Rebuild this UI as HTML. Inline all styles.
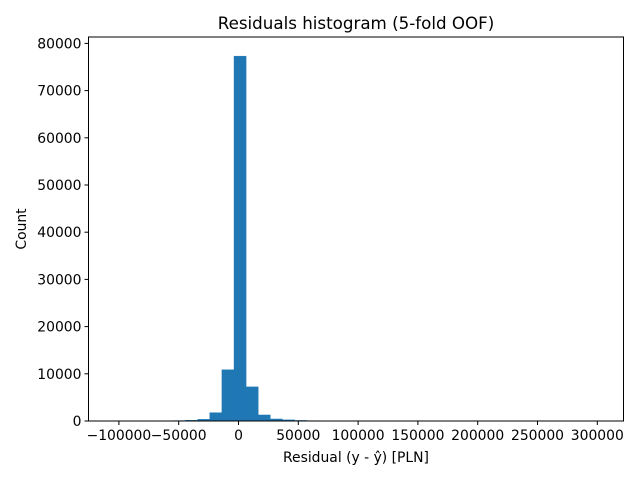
<!DOCTYPE html>
<html><head><meta charset="utf-8"><style>
body{margin:0;background:#fff;}
svg{display:block;font-family:"DejaVu Sans","Liberation Sans",sans-serif;}
</style></head><body>
<svg id="chart" width="640" height="480" xmlns="http://www.w3.org/2000/svg">
<rect x="0" y="0" width="640" height="480" fill="#fff"/>
<g id="bars"></g>
<g id="axes"></g>
<text x="356" y="29" font-size="16.7" text-anchor="middle">Residuals histogram (5-fold OOF)</text>
<text x="356" y="462" font-size="13.9" text-anchor="middle">Residual (y - ŷ) [PLN]</text>
<text x="0" y="0" font-size="13.9" text-anchor="middle" transform="translate(26,229) rotate(-90)">Count</text>
</svg>
<script>
const binStart = -104960;
const binWidth = 10120;
const counts = [5,8,12,20,40,80,160,350,1770,10850,77300,7230,1280,430,240,120,70,40,25,15,10,8,6,5,4,3,3,2,2,2,1,1,1,1,1,1,1,1,1,1];
const xTicks = [-100000,-50000,0,50000,100000,150000,200000,250000,300000];
const xTickLabels = ["−100000","−50000","0","50000","100000","150000","200000","250000","300000"];
const yTicks = [0,10000,20000,30000,40000,50000,60000,70000,80000];
const yTickLabels = ["0","10000","20000","30000","40000","50000","60000","70000","80000"];

const L=88.5,R=623.5,T=37,B=421;
function xs(v){return 238.5 + v*119.6/100000;}
function ys(v){return B - v*47.2/10000;}
const NS="http://www.w3.org/2000/svg";
const bars=document.getElementById('bars');
counts.forEach((c,i)=>{
  const x0=xs(binStart+i*binWidth), x1=xs(binStart+(i+1)*binWidth);
  const r=document.createElementNS(NS,'rect');
  r.setAttribute('x',x0);r.setAttribute('width',x1-x0);
  r.setAttribute('y',ys(c));r.setAttribute('height',B-ys(c));
  r.setAttribute('fill','#1f77b4');
  r.setAttribute('stroke','#1f77b4');r.setAttribute('stroke-width','0.4');
  
  
  bars.appendChild(r);
});
const ax=document.getElementById('axes');
const fr=document.createElementNS(NS,'rect');
fr.setAttribute('x',L);fr.setAttribute('y',T);fr.setAttribute('width',R-L);fr.setAttribute('height',B-T);
fr.setAttribute('fill','none');fr.setAttribute('stroke','#000');fr.setAttribute('stroke-width','1');


ax.appendChild(fr);
xTicks.forEach((v,i)=>{
  const x=xs(v);
  const l=document.createElementNS(NS,'line');
  l.setAttribute('x1',x);l.setAttribute('x2',x);l.setAttribute('y1',B);l.setAttribute('y2',B+4);
  l.setAttribute('stroke','#000');
  
  
  ax.appendChild(l);
  const t=document.createElementNS(NS,'text');
  t.setAttribute('x',x);t.setAttribute('y',B+19);t.setAttribute('font-size','13.9');t.setAttribute('text-anchor','middle');
  t.textContent=xTickLabels[i];
  
  
  ax.appendChild(t);
});
yTicks.forEach((v,i)=>{
  const y=ys(v);
  const l=document.createElementNS(NS,'line');
  l.setAttribute('x1',L-4);l.setAttribute('x2',L);l.setAttribute('y1',y);l.setAttribute('y2',y);
  l.setAttribute('stroke','#000');
  
  
  ax.appendChild(l);
  const t=document.createElementNS(NS,'text');
  t.setAttribute('x',L-7);t.setAttribute('y',y+5);t.setAttribute('font-size','13.9');t.setAttribute('text-anchor','end');
  t.textContent=yTickLabels[i];
  
  
  ax.appendChild(t);
});
</script>
</body></html>
